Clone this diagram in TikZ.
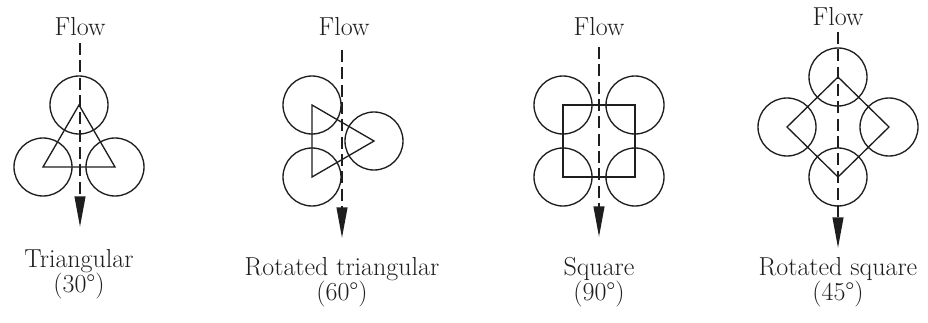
\documentclass[tikz,border=0pt]{standalone}
\usepackage{fontspec}
\usetikzlibrary{arrows.meta}
\definecolor{ink}{RGB}{30,30,30}
\begin{document}
\begin{tikzpicture}[x=0.75pt,y=-0.75pt,
  circ/.style={circle,draw=ink,line width=1pt,minimum size=43.5pt,inner sep=0pt},
  outline/.style={draw=ink,line width=1pt,line join=miter},
  flowline/.style={draw=ink,line width=1.5pt,dash pattern=on 9pt off 4pt,-{Triangle[length=23pt,width=8pt]}},
  txt/.style={font=\fontsize{19.5}{22}\selectfont,text=ink,anchor=base,inner sep=0pt,text height=0.68em,text depth=0.12em}]
\useasboundingbox[fill=white] (0,0) rectangle (928,322);

% Panel 1: Triangular
\node[circ] (a1) at (79,105) {};
\node[circ] (a2) at (43,167) {};
\node[circ] (a3) at (115,167) {};
\draw[outline] (a1.center) -- (a2.center) -- (a3.center) -- cycle;
\node[txt] (fa) at (80,35) {Flow};
\coordinate (sa) at (80,43);
\coordinate (ea) at (80,227);
\draw[flowline] (sa) -- (ea);
\node[txt] (la) at (79,267) {Triangular};
\node[txt] (ga) at (79,292) {(30°)};

% Panel 2: Rotated triangular
\node[circ] (b1) at (312,105) {};
\node[circ] (b2) at (312,177) {};
\node[circ] (b3) at (374,141) {};
\draw[outline] (b1.center) -- (b2.center) -- (b3.center) -- cycle;
\node[txt] (fb) at (344,35) {Flow};
\coordinate (sb) at (342,50);
\coordinate (eb) at (342,238);
\draw[flowline] (sb) -- (eb);
\node[txt] (lb) at (342,275) {Rotated triangular};
\node[txt] (gb) at (342,300) {(60°)};

% Panel 3: Square
\node[circ] (c1) at (563,105) {};
\node[circ] (c2) at (635,105) {};
\node[circ] (c3) at (635,177) {};
\node[circ] (c4) at (563,177) {};
\draw[outline] (c1.center) -- (c2.center) -- (c3.center) -- (c4.center) -- cycle;
\node[txt] (fc) at (599,35) {Flow};
\coordinate (sc) at (599,47);
\coordinate (ec) at (599,237);
\draw[flowline] (sc) -- (ec);
\node[txt] (lc) at (599,275) {Square};
\node[txt] (gc) at (599,300) {(90°)};

% Panel 4: Rotated square
\node[circ] (d1) at (838,77) {};
\node[circ] (d2) at (889,127) {};
\node[circ] (d3) at (838,177) {};
\node[circ] (d4) at (787,127) {};
\draw[outline] (d1.center) -- (d2.center) -- (d3.center) -- (d4.center) -- cycle;
\node[txt] (fd) at (838,25) {Flow};
\coordinate (sd) at (838,32);
\coordinate (ed) at (838,248);
\draw[flowline] (sd) -- (ed);
\node[txt] (ld) at (838,275) {Rotated square};
\node[txt] (gd) at (838,300) {(45°)};
\end{tikzpicture}
\end{document}
